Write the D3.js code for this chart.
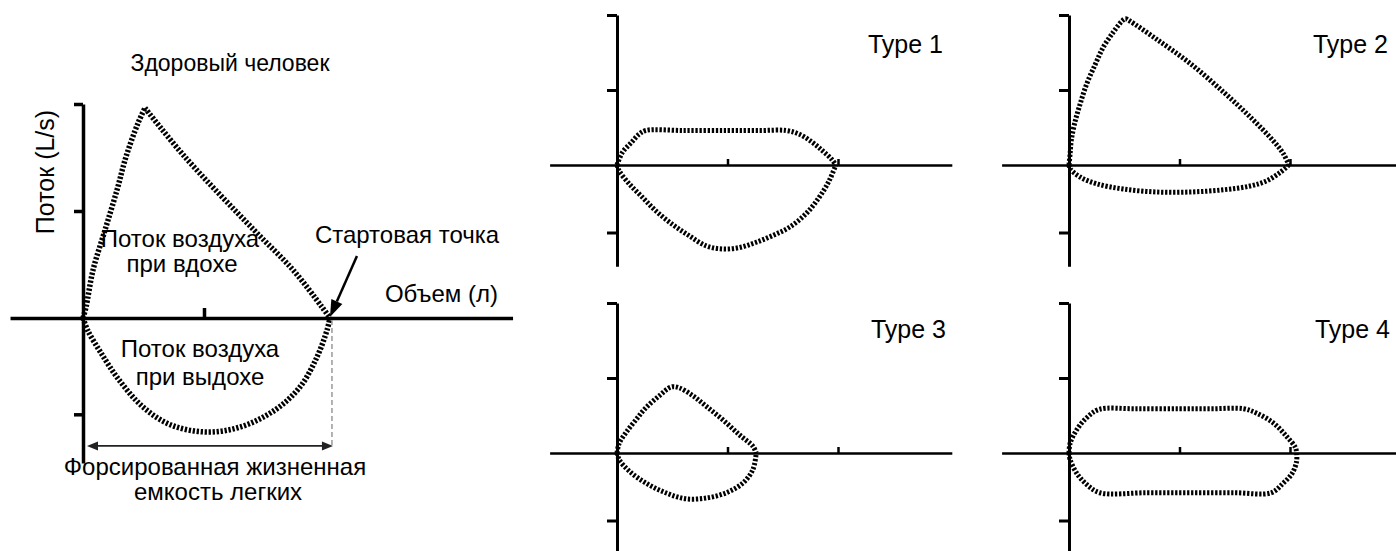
<!DOCTYPE html>
<html>
<head>
<meta charset="utf-8">
<script src="https://cdn.jsdelivr.net/npm/d3@7"></script>
<style>
  body { margin: 0; background: #fff; }
  text { font-family: "Liberation Sans", Arial, sans-serif; fill: #000; }
</style>
</head>
<body>
<script>
// flow-volume loops, x = volume (tick units), y = flow (tick units, + = inspiration)
const healthyRise = [[0,0],[0.025,0.103],[0.083,0.449],[0.182,0.822],[0.281,1.196],[0.355,1.505],[0.455,1.822],[0.512,1.963]];
const healthyFall = [[0.512,1.963],[0.843,1.505],[1.413,0.822],[1.736,0.449],[1.975,0.103],[2.041,0]];
const healthyExhale = [[0,0],[0.037,-0.112],[0.149,-0.327],[0.298,-0.579],[0.496,-0.832],[0.727,-1.0],[1.017,-1.065],[1.298,-1.019],[1.587,-0.86],[1.793,-0.645],[1.934,-0.364],[2.017,-0.112],[2.041,0]];
const fvc = 2.041;
const fvcArrowFlow = -1.196;

const type1Upper = [[0,0],[0.05,0.17],[0.13,0.30],[0.20,0.41],[0.26,0.46],[0.6,0.46],[1.0,0.46],[1.3,0.46],[1.53,0.46],[1.65,0.41],[1.77,0.30],[1.86,0.19],[1.94,0.08],[1.98,0]];
const type1Lower = [[0,0],[0.02,-0.08],[0.11,-0.25],[0.23,-0.43],[0.35,-0.61],[0.50,-0.79],[0.65,-0.94],[0.81,-1.08],[0.96,-1.12],[1.11,-1.10],[1.26,-1.03],[1.41,-0.94],[1.56,-0.83],[1.71,-0.65],[1.83,-0.43],[1.92,-0.21],[1.98,0]];
const type2Upper = [[0,0],[0.01,0.15],[0.02,0.32],[0.05,0.55],[0.10,0.81],[0.16,1.08],[0.24,1.35],[0.31,1.57],[0.40,1.77],[0.48,1.92],[0.51,1.95],[0.55,1.92],[0.79,1.68],[1.10,1.35],[1.40,0.97],[1.64,0.64],[1.85,0.32],[1.94,0.15],[1.99,0]];
const type2Lower = [[0,0],[0.01,-0.05],[0.10,-0.16],[0.25,-0.25],[0.49,-0.32],[0.79,-0.36],[1.10,-0.36],[1.40,-0.33],[1.64,-0.28],[1.79,-0.21],[1.91,-0.10],[1.99,0]];
const type3Upper = [[0,0],[0.02,0.13],[0.08,0.27],[0.17,0.44],[0.26,0.60],[0.38,0.76],[0.49,0.88],[0.56,0.87],[0.69,0.76],[0.81,0.62],[0.96,0.44],[1.11,0.24],[1.23,0.09],[1.26,0]];
const type3Lower = [[0,0],[0.02,-0.09],[0.11,-0.24],[0.26,-0.40],[0.44,-0.53],[0.62,-0.61],[0.81,-0.60],[0.99,-0.53],[1.14,-0.40],[1.23,-0.22],[1.26,0]];
const type4Upper = [[0,0],[0.01,0.13],[0.07,0.31],[0.16,0.47],[0.27,0.58],[0.6,0.59],[1.0,0.59],[1.3,0.59],[1.58,0.59],[1.70,0.53],[1.85,0.40],[1.97,0.22],[2.05,0.07],[2.06,0]];
const type4Lower = [[0,0],[0.01,-0.09],[0.07,-0.27],[0.16,-0.42],[0.28,-0.53],[0.7,-0.53],[1.1,-0.53],[1.5,-0.53],[1.83,-0.53],[1.94,-0.40],[2.02,-0.27],[2.06,-0.11],[2.06,0]];

const typeNames = ["Type 1", "Type 2", "Type 3", "Type 4"];
const typeLoops = [[type1Upper, type1Lower], [type2Upper, type2Lower], [type3Upper, type3Lower], [type4Upper, type4Lower]];

const healthyXTicks = [1];
const healthyYTicks = [2, 1, -0.9];
const typeXTicks = [1, 2];
const typeYTicks = [2, 1, -0.9];

const width = 1396, height = 551;

const svg = d3.select("body").append("svg")
    .attr("width", width)
    .attr("height", height);

// draws the cross of axes for one panel
function drawAxes(x, y, xExt, yExt, xTicks, yTicks, xTickLen, yTickLen, xw, yw) {
    const xa = x.copy().domain(xExt).range(xExt.map(x));
    const ya = y.copy().domain(yExt).range(yExt.map(y));
    const gx = svg.append("g")
        .attr("transform", "translate(0," + y(0) + ")")
        .call(d3.axisTop(xa).tickValues(xTicks).tickSize(xTickLen).tickSizeOuter(0));
    gx.selectAll("text").remove();
    gx.selectAll("path, line").attr("stroke", "#000").attr("stroke-width", xw);
    const gy = svg.append("g")
        .attr("transform", "translate(" + x(0) + ",0)")
        .call(d3.axisLeft(ya).tickValues(yTicks).tickSize(yTickLen).tickSizeOuter(0));
    gy.selectAll("text").remove();
    gy.selectAll("path, line").attr("stroke", "#000").attr("stroke-width", yw);
}

function drawLoop(x, y, pts, sw) {
    const line = d3.line()
        .x(d => x(d[0]))
        .y(d => y(d[1]))
        .curve(d3.curveCatmullRom.alpha(0.5));
    svg.append("path")
        .datum(pts)
        .attr("d", line)
        .attr("fill", "none")
        .attr("stroke", "#000")
        .attr("stroke-width", sw)
        .attr("stroke-dasharray", "2.3,1.7");
}

function addText(txt, px, py, size, anchor) {
    return svg.append("text")
        .attr("x", px).attr("y", py)
        .attr("font-size", size)
        .attr("text-anchor", anchor || "middle")
        .text(txt);
}

// ---------- healthy panel ----------
const hx = d3.scaleLinear().domain([0, 1]).range([83, 204]);
const hy = d3.scaleLinear().domain([0, 1]).range([318, 211]);

drawAxes(hx, hy, [-0.603, 3.55], [-1.355, 2], healthyXTicks, healthyYTicks, 10, 9, 3.5, 3.5);
drawLoop(hx, hy, healthyRise, 5.5);
drawLoop(hx, hy, healthyFall, 5.5);
drawLoop(hx, hy, healthyExhale, 5.5);

// FVC dashed drop line and double arrow
svg.append("line")
    .attr("x1", hx(fvc) + 2).attr("x2", hx(fvc) + 2)
    .attr("y1", hy(0) + 2).attr("y2", hy(fvcArrowFlow))
    .attr("stroke", "#999").attr("stroke-width", 1.5)
    .attr("stroke-dasharray", "5,3");

const ay = hy(fvcArrowFlow);
const ax1 = hx(0) + 4, ax2 = hx(fvc) + 3;
svg.append("line")
    .attr("x1", ax1 + 8).attr("x2", ax2 - 8)
    .attr("y1", ay).attr("y2", ay)
    .attr("stroke", "#222").attr("stroke-width", 1.8);
svg.append("path")
    .attr("d", `M${ax1},${ay}L${ax1 + 11},${ay - 4.5}L${ax1 + 11},${ay + 4.5}Z`)
    .attr("fill", "#222");
svg.append("path")
    .attr("d", `M${ax2},${ay}L${ax2 - 11},${ay - 4.5}L${ax2 - 11},${ay + 4.5}Z`)
    .attr("fill", "#222");

// start point arrow
const tipX = hx(fvc), tipY = hy(0) - 1;
const sx = tipX + 27, sy = tipY - 61;
const len = Math.hypot(tipX - sx, tipY - sy);
const ux = (tipX - sx) / len, uy = (tipY - sy) / len;
const bx = tipX - 17 * ux, by = tipY - 17 * uy;
svg.append("line")
    .attr("x1", sx).attr("y1", sy).attr("x2", bx).attr("y2", by)
    .attr("stroke", "#000").attr("stroke-width", 2.5);
svg.append("path")
    .attr("d", `M${tipX},${tipY}L${bx - 6 * uy},${by + 6 * ux}L${bx + 6 * uy},${by - 6 * ux}Z`)
    .attr("fill", "#000");

// healthy panel texts
addText("Здоровый человек", 230, 71, 23);
addText("Поток (L/s)", 0, 0, 25).attr("transform", "translate(54,172) rotate(-90)");
addText("Поток воздуха", 180, 247, 24);
addText("при вдохе", 182, 272, 24);
addText("Стартовая точка", 407, 243, 24);
addText("Объем (л)", 498, 302, 24, "end");
addText("Поток воздуха", 200, 357, 24);
addText("при выдохе", 200, 385, 24);
addText("Форсированная жизненная", 215, 475, 24);
addText("емкость легких", 218, 500, 24);

// ---------- four pattern panels ----------
const origins = [[617, 165], [1069, 165], [617, 453], [1069, 453]];
const labelPos = [[943, 53], [1388, 53], [946, 338], [1390, 338]];

typeNames.forEach(function(name, i) {
    const x = d3.scaleLinear().domain([0, 1]).range([origins[i][0], origins[i][0] + 110.5]);
    const y = d3.scaleLinear().domain([0, 1]).range([origins[i][1], origins[i][1] - 75]);
    drawAxes(x, y, [-0.61, 3.03], [-1.35, 2], typeXTicks, typeYTicks, 6, 10, 2.5, 3);
    typeLoops[i].forEach(function(pts) {
        drawLoop(x, y, pts, 5);
    });
    addText(name, labelPos[i][0], labelPos[i][1], 25, "end");
});
</script>
</body>
</html>
